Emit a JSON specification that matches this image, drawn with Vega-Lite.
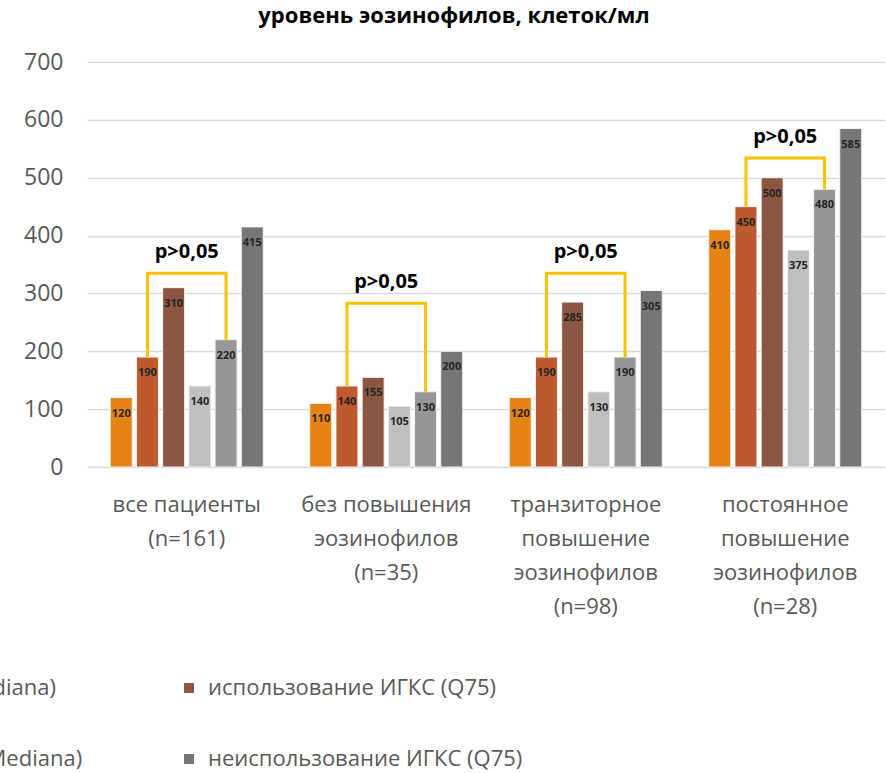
{
  "$schema": "https://vega.github.io/schema/vega-lite/v6.json",
  "autosize": "none",
  "width": 798,
  "height": 405,
  "padding": {"left": 87, "top": 62, "right": 1, "bottom": 306},
  "background": "white",
  "title": {
    "text": "уровень эозинофилов, клеток/мл",
    "font": "Open Sans",
    "fontSize": 22,
    "fontWeight": "bold",
    "color": "#000000",
    "anchor": "middle",
    "frame": "group",
    "dx": -32,
    "offset": 23
  },
  "config": {
    "view": {"stroke": null},
    "font": "Open Sans"
  },
  "datasets": {
    "bars": [
      {"group": "все пациенты|(n=161)", "series": "использование ИГКС (Q25)", "value": 120},
      {"group": "все пациенты|(n=161)", "series": "использование ИГКС (Mediana)", "value": 190},
      {"group": "все пациенты|(n=161)", "series": "использование ИГКС (Q75)", "value": 310},
      {"group": "все пациенты|(n=161)", "series": "неиспользование ИГКС (Q25)", "value": 140},
      {"group": "все пациенты|(n=161)", "series": "неиспользование ИГКС (Mediana)", "value": 220},
      {"group": "все пациенты|(n=161)", "series": "неиспользование ИГКС (Q75)", "value": 415},
      {"group": "без повышения|эозинофилов|(n=35)", "series": "использование ИГКС (Q25)", "value": 110},
      {"group": "без повышения|эозинофилов|(n=35)", "series": "использование ИГКС (Mediana)", "value": 140},
      {"group": "без повышения|эозинофилов|(n=35)", "series": "использование ИГКС (Q75)", "value": 155},
      {"group": "без повышения|эозинофилов|(n=35)", "series": "неиспользование ИГКС (Q25)", "value": 105},
      {"group": "без повышения|эозинофилов|(n=35)", "series": "неиспользование ИГКС (Mediana)", "value": 130},
      {"group": "без повышения|эозинофилов|(n=35)", "series": "неиспользование ИГКС (Q75)", "value": 200},
      {"group": "транзиторное|повышение|эозинофилов|(n=98)", "series": "использование ИГКС (Q25)", "value": 120},
      {"group": "транзиторное|повышение|эозинофилов|(n=98)", "series": "использование ИГКС (Mediana)", "value": 190},
      {"group": "транзиторное|повышение|эозинофилов|(n=98)", "series": "использование ИГКС (Q75)", "value": 285},
      {"group": "транзиторное|повышение|эозинофилов|(n=98)", "series": "неиспользование ИГКС (Q25)", "value": 130},
      {"group": "транзиторное|повышение|эозинофилов|(n=98)", "series": "неиспользование ИГКС (Mediana)", "value": 190},
      {"group": "транзиторное|повышение|эозинофилов|(n=98)", "series": "неиспользование ИГКС (Q75)", "value": 305},
      {"group": "постоянное|повышение|эозинофилов|(n=28)", "series": "использование ИГКС (Q25)", "value": 410},
      {"group": "постоянное|повышение|эозинофилов|(n=28)", "series": "использование ИГКС (Mediana)", "value": 450},
      {"group": "постоянное|повышение|эозинофилов|(n=28)", "series": "использование ИГКС (Q75)", "value": 500},
      {"group": "постоянное|повышение|эозинофилов|(n=28)", "series": "неиспользование ИГКС (Q25)", "value": 375},
      {"group": "постоянное|повышение|эозинофилов|(n=28)", "series": "неиспользование ИГКС (Mediana)", "value": 480},
      {"group": "постоянное|повышение|эозинофилов|(n=28)", "series": "неиспользование ИГКС (Q75)", "value": 585}
    ],
    "brackets": [
      {"group": "все пациенты|(n=161)", "series": "использование ИГКС (Mediana)", "step": 1, "value": 190},
      {"group": "все пациенты|(n=161)", "series": "использование ИГКС (Mediana)", "step": 2, "value": 335},
      {"group": "все пациенты|(n=161)", "series": "неиспользование ИГКС (Mediana)", "step": 3, "value": 335},
      {"group": "все пациенты|(n=161)", "series": "неиспользование ИГКС (Mediana)", "step": 4, "value": 220},
      {"group": "без повышения|эозинофилов|(n=35)", "series": "использование ИГКС (Mediana)", "step": 1, "value": 140},
      {"group": "без повышения|эозинофилов|(n=35)", "series": "использование ИГКС (Mediana)", "step": 2, "value": 283},
      {"group": "без повышения|эозинофилов|(n=35)", "series": "неиспользование ИГКС (Mediana)", "step": 3, "value": 283},
      {"group": "без повышения|эозинофилов|(n=35)", "series": "неиспользование ИГКС (Mediana)", "step": 4, "value": 130},
      {"group": "транзиторное|повышение|эозинофилов|(n=98)", "series": "использование ИГКС (Mediana)", "step": 1, "value": 190},
      {"group": "транзиторное|повышение|эозинофилов|(n=98)", "series": "использование ИГКС (Mediana)", "step": 2, "value": 335},
      {"group": "транзиторное|повышение|эозинофилов|(n=98)", "series": "неиспользование ИГКС (Mediana)", "step": 3, "value": 335},
      {"group": "транзиторное|повышение|эозинофилов|(n=98)", "series": "неиспользование ИГКС (Mediana)", "step": 4, "value": 190},
      {"group": "постоянное|повышение|эозинофилов|(n=28)", "series": "использование ИГКС (Mediana)", "step": 1, "value": 450},
      {"group": "постоянное|повышение|эозинофилов|(n=28)", "series": "использование ИГКС (Mediana)", "step": 2, "value": 534},
      {"group": "постоянное|повышение|эозинофилов|(n=28)", "series": "неиспользование ИГКС (Mediana)", "step": 3, "value": 534},
      {"group": "постоянное|повышение|эозинофилов|(n=28)", "series": "неиспользование ИГКС (Mediana)", "step": 4, "value": 480}
    ],
    "pvalues": [
      {"group": "все пациенты|(n=161)", "level": 335, "text": "p>0,05"},
      {"group": "без повышения|эозинофилов|(n=35)", "level": 283, "text": "p>0,05"},
      {"group": "транзиторное|повышение|эозинофилов|(n=98)", "level": 335, "text": "p>0,05"},
      {"group": "постоянное|повышение|эозинофилов|(n=28)", "level": 534, "text": "p>0,05"}
    ]
  },
  "encoding": {
    "x": {
      "field": "group",
      "type": "nominal",
      "sort": null,
      "scale": {"paddingInner": 0.233, "paddingOuter": 0.1165},
      "axis": {
        "title": null,
        "labelAngle": 0,
        "labelExpr": "split(datum.label, '|')",
        "labelFont": "Open Sans",
        "labelFontSize": 22,
        "labelColor": "#595959",
        "labelLineHeight": 34,
        "labelPadding": 27,
        "ticks": false,
        "domain": false,
        "labelLimit": 300
      }
    }
  },
  "layer": [
    {
      "data": {"name": "bars"},
      "mark": {"type": "bar", "stroke": "#f4f4f4", "strokeWidth": 1},
      "encoding": {
        "xOffset": {
          "field": "series",
          "type": "nominal",
          "sort": null,
          "scale": {"paddingInner": 0.16, "paddingOuter": 0}
        },
        "y": {
          "field": "value",
          "type": "quantitative",
          "scale": {"domain": [0, 700], "nice": false},
          "axis": {
            "title": null,
            "values": [0, 100, 200, 300, 400, 500, 600, 700],
            "labelFont": "Open Sans",
            "labelFontSize": 23,
            "labelColor": "#595959",
            "labelPadding": 24,
            "ticks": false,
            "domain": false,
            "gridColor": "#d9d9d9",
            "gridWidth": 1.5
          }
        },
        "color": {
          "field": "series",
          "type": "nominal",
          "sort": null,
          "scale": {
            "domain": [
              "использование ИГКС (Q25)",
              "использование ИГКС (Mediana)",
              "использование ИГКС (Q75)",
              "неиспользование ИГКС (Q25)",
              "неиспользование ИГКС (Mediana)",
              "неиспользование ИГКС (Q75)"
            ],
            "range": ["#e58213", "#be5a2e", "#8b5740", "#bfbfbf", "#969696", "#767676"]
          },
          "legend": {
            "title": null,
            "orient": "none",
            "legendX": -836,
            "legendY": 615,
            "columns": 3,
            "direction": "horizontal",
            "columnPadding": 95,
            "rowPadding": 49,
            "symbolType": "square",
            "symbolSize": 100,
            "symbolStrokeWidth": 0,
            "symbolOffset": 0,
            "labelFont": "Open Sans",
            "labelFontSize": 22,
            "labelColor": "#595959",
            "labelOffset": 8,
            "labelLimit": 500
          }
        }
      }
    },
    {
      "data": {"name": "bars"},
      "mark": {
        "type": "text",
        "baseline": "middle",
        "dy": 16,
        "fontSize": 11,
        "fontWeight": "bold",
        "font": "Open Sans",
        "color": "#262626"
      },
      "encoding": {
        "xOffset": {"field": "series", "type": "nominal", "sort": null},
        "y": {"field": "value", "type": "quantitative"},
        "text": {"field": "value", "type": "quantitative"}
      }
    },
    {
      "data": {"name": "brackets"},
      "mark": {"type": "line", "color": "#ffc000", "strokeWidth": 3, "interpolate": "linear"},
      "encoding": {
        "xOffset": {"field": "series", "type": "nominal", "sort": null},
        "y": {"field": "value", "type": "quantitative"},
        "detail": {"field": "group"},
        "order": {"field": "step", "type": "quantitative"}
      }
    },
    {
      "data": {"name": "pvalues"},
      "mark": {
        "type": "text",
        "baseline": "middle",
        "dy": -21,
        "fontSize": 20,
        "fontWeight": "bold",
        "font": "Open Sans",
        "color": "#000000"
      },
      "encoding": {
        "y": {"field": "level", "type": "quantitative"},
        "text": {"field": "text"}
      }
    }
  ]
}
